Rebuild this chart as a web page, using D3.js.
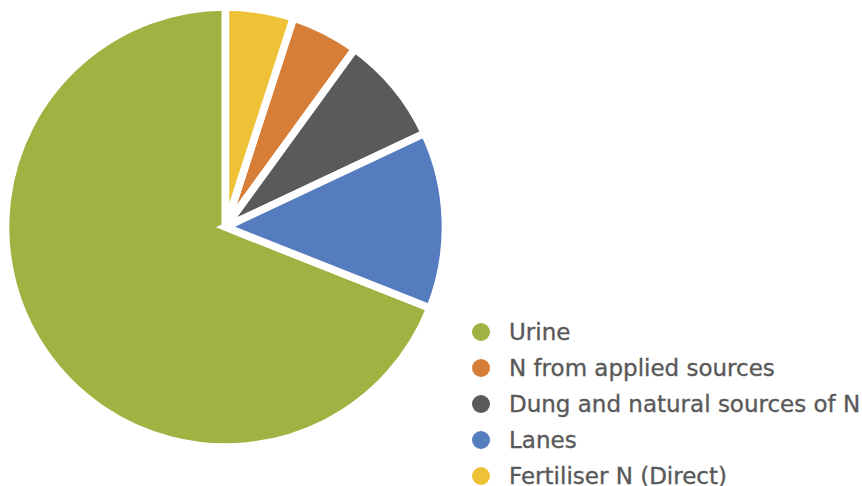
<!DOCTYPE html>
<html>
<head>
<meta charset="utf-8">
<style>
  body { margin: 0; background: #fff; }
  svg { display: block; }
  .legend text { font-family: "DejaVu Sans", sans-serif; fill: #595959; stroke: #595959; stroke-width: 0.35px; }
</style>
<script src="https://cdn.jsdelivr.net/npm/d3@7"></script>
</head>
<body>
<script>

// legend order
var categories = ["Urine", "N from applied sources", "Dung and natural sources of N", "Lanes", "Fertiliser N (Direct)"];
var values = [69, 5, 8, 13, 5];
var colors = ["#A0B242", "#D67E37", "#5A5A5C", "#557CBE", "#EEC136"];
// order of the slices clockwise from 12 o'clock
var pieOrder = ["Fertiliser N (Direct)", "N from applied sources", "Dung and natural sources of N", "Lanes", "Urine"];

var width = 862, height = 486;
var cx = 225.5, cy = 227, radius = 220;

var data = categories.map(function(c, i) { return {name: c, value: values[i]}; });

var color = d3.scaleOrdinal().domain(categories).range(colors);

var svg = d3.select("body").append("svg")
    .attr("width", width)
    .attr("height", height);

var pie = d3.pie()
    .value(function(d) { return d.value; })
    .sort(function(a, b) { return pieOrder.indexOf(a.name) - pieOrder.indexOf(b.name); });

var arc = d3.arc().innerRadius(0).outerRadius(radius);

var g = svg.append("g").attr("transform", "translate(" + cx + "," + cy + ")");

g.selectAll("path")
    .data(pie(data))
    .enter()
    .append("path")
    .attr("d", arc)
    .attr("fill", function(d) { return color(d.data.name); })
    .attr("stroke", "#fff")
    .attr("stroke-width", 7.6)
    .attr("stroke-linejoin", "miter");

// LEGEND
var ly = d3.scalePoint().domain(categories).range([332, 476]);

var legend = svg.append("g")
    .attr("class", "legend")
    .selectAll("g")
    .data(categories)
    .enter()
    .append("g")
    .attr("transform", function(d) { return "translate(481," + ly(d) + ")"; });

legend.append("circle")
    .attr("r", 9)
    .attr("fill", function(d) { return color(d); });

legend.append("text")
    .attr("x", 28)
    .attr("dy", "0.36em")
    .style("font-size", "23px")
    .text(function(d) { return d; });

</script>
</body>
</html>
